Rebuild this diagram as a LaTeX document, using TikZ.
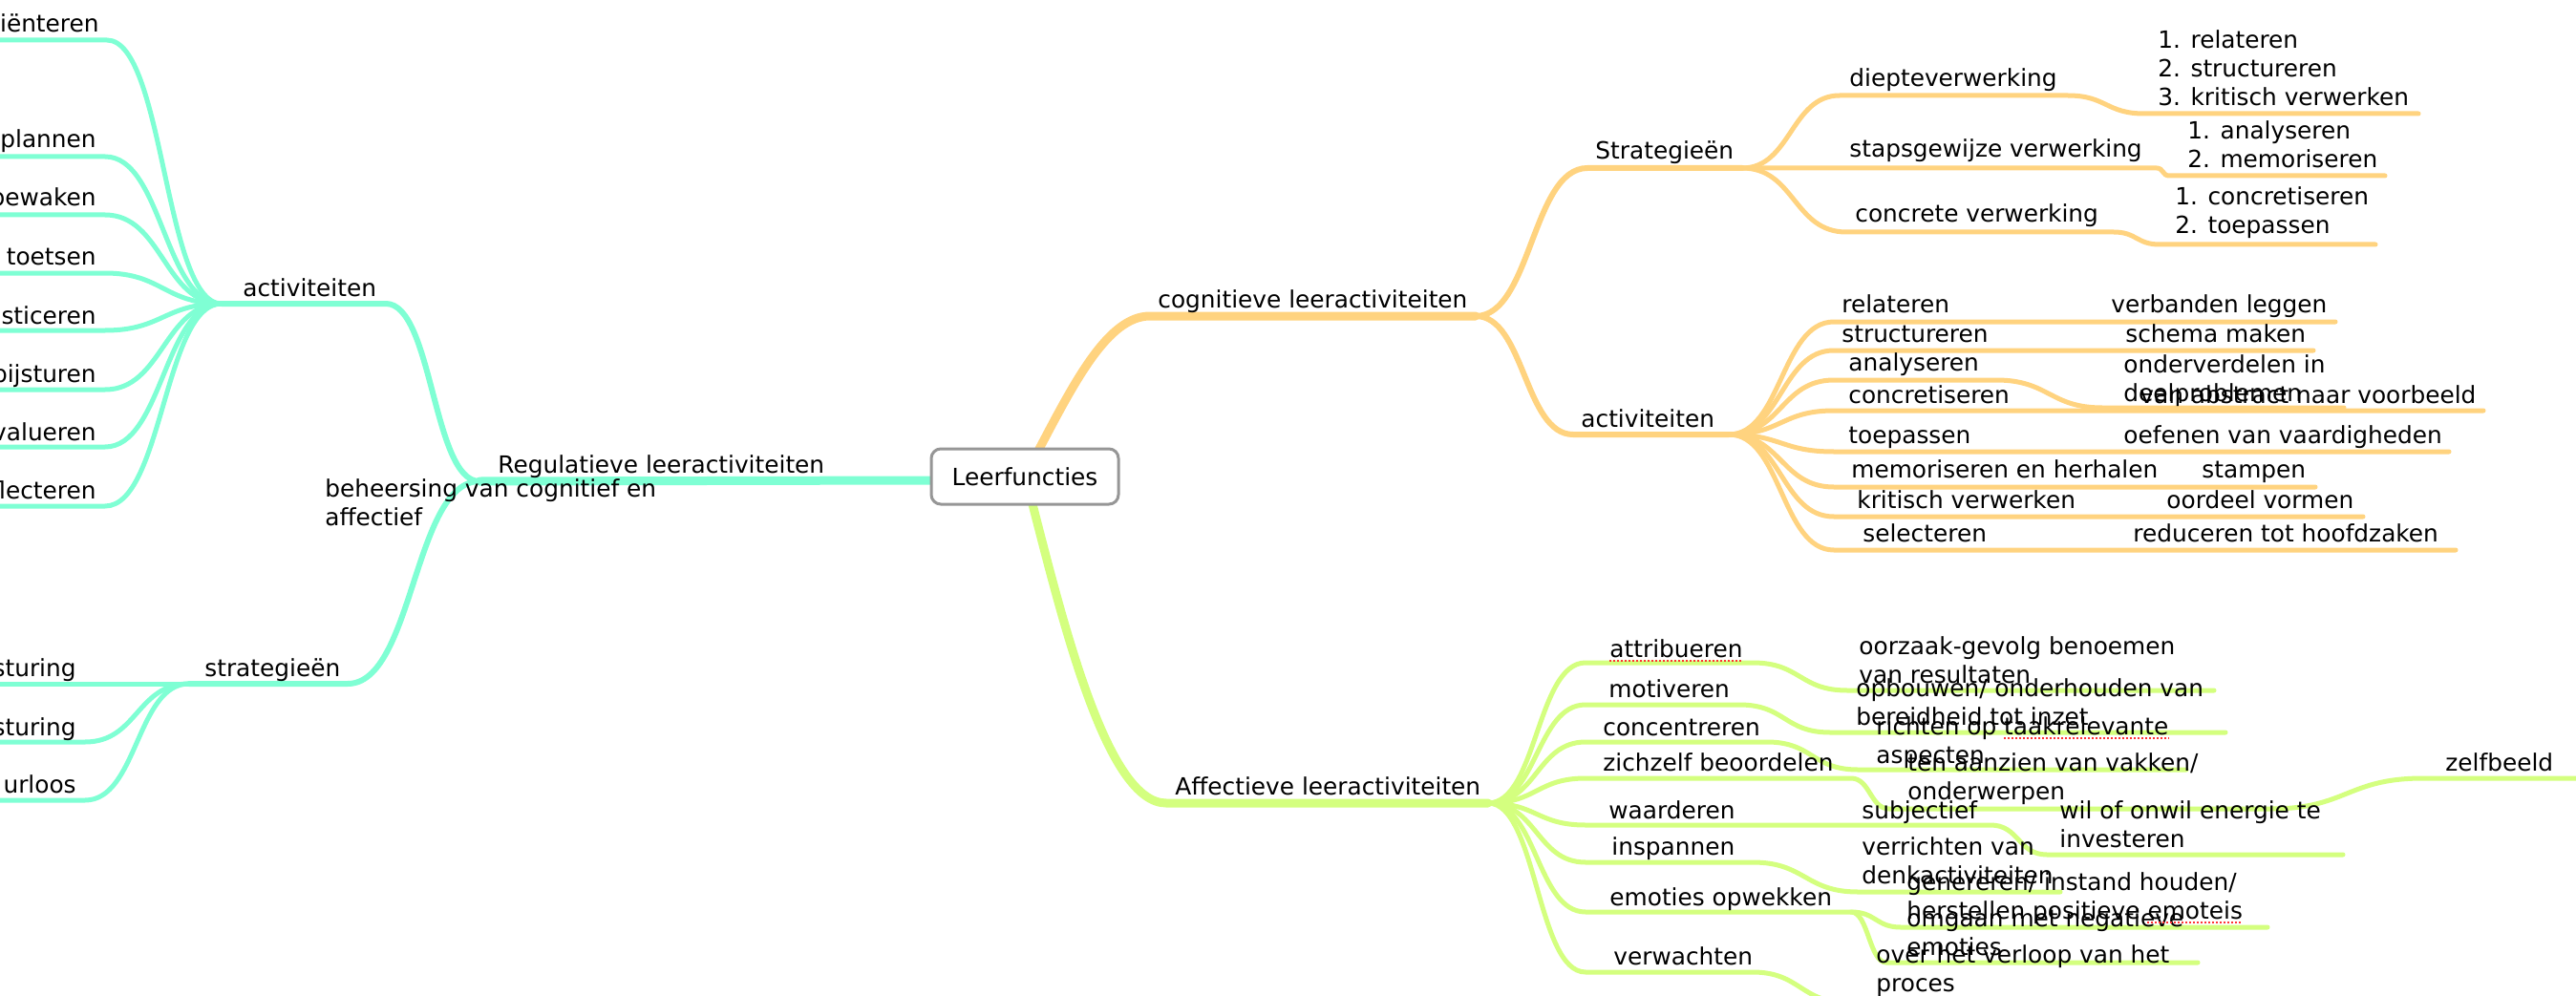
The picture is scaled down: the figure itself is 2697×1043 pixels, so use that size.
\documentclass[tikz,border=0pt]{standalone}
\usepackage{fontspec}
\setmainfont{DejaVu Sans}
\definecolor{tealc}{RGB}{127,255,212}
\definecolor{orac}{RGB}{255,211,127}
\definecolor{grnc}{RGB}{212,255,127}
\definecolor{rootgray}{RGB}{150,150,150}
\newcommand\mainfs{\fontsize{12.4pt}{15pt}\selectfont}
\newcommand\twoln[2]{\begin{tabular}[t]{@{}l@{}}#1\\#2\end{tabular}}
\newcommand\threeln[3]{\begin{tabular}[t]{@{}l@{}}#1\\#2\\#3\end{tabular}}
\tikzset{
  lbl/.style={inner sep=0pt, anchor=base west, font=\mainfs},
  lblr/.style={inner sep=0pt, anchor=base east, font=\mainfs},
  wA/.style={line width=4.5pt, line cap=round},
  wB/.style={line width=3pt, line cap=round},
  wC/.style={line width=2.5pt, line cap=round},
  spell/.style={draw=red!80, line width=1pt, dash pattern=on 1pt off 1pt},
  rootbox/.style={draw=rootgray, line width=1.5pt, rounded corners=5pt, fill=white,
    minimum width=98pt, minimum height=29pt, inner sep=0pt, font=\mainfs}
}
\begin{document}
\begin{tikzpicture}[x=0.5pt,y=-0.5pt]
\useasboundingbox (0,0) rectangle (2697,1043);
\fill[white] (0,0) rectangle (2697,1043);

% ---------- coordinates: teal ----------
\coordinate (rootW) at (975,503);
\coordinate (regJ) at (502,504);
\coordinate (ractR) at (404,318);
\coordinate (ractH) at (232,318);
\coordinate (l1s) at (112,42);  \coordinate (l1e) at (-6,42);
\coordinate (l2s) at (110,164); \coordinate (l2e) at (-6,164);
\coordinate (l3s) at (110,225); \coordinate (l3e) at (-6,225);
\coordinate (l4s) at (110,286); \coordinate (l4e) at (-6,286);
\coordinate (l5s) at (110,346); \coordinate (l5e) at (-6,346);
\coordinate (l6s) at (110,408); \coordinate (l6e) at (-6,408);
\coordinate (l7s) at (110,468); \coordinate (l7e) at (-6,468);
\coordinate (l8s) at (110,530); \coordinate (l8e) at (-6,530);
\coordinate (rstrR) at (364,716);
\coordinate (rstrH) at (198,716);
\coordinate (s1e) at (-6,716);
\coordinate (s2s) at (89,777); \coordinate (s2e) at (-6,777);
\coordinate (s3s) at (89,838); \coordinate (s3e) at (-6,838);

% ---------- teal lines ----------
\draw[tealc,wA] (rootW) -- (regJ);
\draw[tealc,wB] (regJ) .. controls +(-49,0) and +(49,0) .. (ractR) -- (ractH);
\foreach \i in {1,...,8}{
  \draw[tealc,wC] (ractH) .. controls +(-60,0) and +(60,0) .. (l\i s) -- (l\i e);
}
\draw[tealc,wB] (regJ) .. controls +(-69,0) and +(69,0) .. (rstrR) -- (rstrH);
\draw[tealc,wC] (rstrH) -- (s1e);
\draw[tealc,wC] (rstrH) .. controls +(-55,0) and +(55,0) .. (s2s) -- (s2e);
\draw[tealc,wC] (rstrH) .. controls +(-55,0) and +(55,0) .. (s3s) -- (s3e);

% ---------- coordinates: orange ----------
\coordinate (cogS) at (1087,472);
\coordinate (cogL) at (1204,331);
\coordinate (cogH) at (1545,331);
\coordinate (stL) at (1662,176);
\coordinate (stH) at (1824,176);
\coordinate (dpS) at (1926,100); \coordinate (dpE) at (2165,100);
\coordinate (dpS2) at (2245,119); \coordinate (dpE2) at (2532,119);
\coordinate (spE) at (2258,176); \coordinate (spS2) at (2271,184); \coordinate (spE2) at (2497,184);
\coordinate (cvS) at (1933,243); \coordinate (cvE) at (2213,243);
\coordinate (cvS2) at (2261,256); \coordinate (cvE2) at (2487,256);
\coordinate (caL) at (1647,455);
\coordinate (caH) at (1810,455);
\coordinate (c1s) at (1920,337); \coordinate (c1e) at (2445,337);
\coordinate (c2s) at (1920,367); \coordinate (c2e) at (2422,367);
\coordinate (c3s) at (1920,398); \coordinate (c3m) at (2090,398);
\coordinate (c3s2) at (2201,427); \coordinate (c3e) at (2454,427);
\coordinate (c4s) at (1920,430); \coordinate (c4e) at (2600,430);
\coordinate (c5s) at (1920,473); \coordinate (c5e) at (2564,473);
\coordinate (c6s) at (1920,510); \coordinate (c6e) at (2424,510);
\coordinate (c7s) at (1920,541); \coordinate (c7e) at (2474,541);
\coordinate (c8s) at (1920,576); \coordinate (c8e) at (2571,576);

% ---------- orange lines ----------
\draw[orac,wA] (cogS) .. controls (1125,400) and (1160,331) .. (cogL) -- (cogH);
\draw[orac,wB] (cogH) .. controls +(58,0) and +(-58,0) .. (stL) -- (stH);
\draw[orac,wC] (stH) .. controls +(51,0) and +(-51,0) .. (dpS) -- (dpE)
   .. controls +(40,0) and +(-40,0) .. (dpS2) -- (dpE2);
\draw[orac,wC] (stH) -- (spE) .. controls +(7,0) and +(-7,0) .. (spS2) -- (spE2);
\draw[orac,wC] (stH) .. controls +(55,0) and +(-55,0) .. (cvS) -- (cvE)
   .. controls +(24,0) and +(-24,0) .. (cvS2) -- (cvE2);
\draw[orac,wB] (cogH) .. controls +(51,0) and +(-51,0) .. (caL) -- (caH);
\foreach \i in {1,2,4,5,6,7,8}{
  \draw[orac,wC] (caH) .. controls +(55,0) and +(-55,0) .. (c\i s) -- (c\i e);
}
\draw[orac,wC] (caH) .. controls +(55,0) and +(-55,0) .. (c3s) -- (c3m)
   .. controls +(55,0) and +(-55,0) .. (c3s2) -- (c3e);

% ---------- coordinates: green ----------
\coordinate (afS) at (1081,528);
\coordinate (afL) at (1221,841);
\coordinate (afH) at (1558,841);
\coordinate (g1s) at (1660,694); \coordinate (g1m) at (1835,694);
\coordinate (g1s2) at (1934,723); \coordinate (g1e) at (2318,723);
\coordinate (g2s) at (1660,738); \coordinate (g2m) at (1821,738);
\coordinate (g2s2) at (1916,767); \coordinate (g2e) at (2330,767);
\coordinate (g3s) at (1660,777); \coordinate (g3m) at (1850,777);
\coordinate (g3s2) at (1945,806); \coordinate (g3e) at (2289,806);
\coordinate (g4s) at (1660,815); \coordinate (g4m) at (1938,815);
\coordinate (g4s2) at (1978,847); \coordinate (g4m2) at (2377,847);
\coordinate (g4s3) at (2537,815); \coordinate (g4e) at (2705,815);
\coordinate (g5s) at (1660,864); \coordinate (g5m) at (2084,864);
\coordinate (g5s2) at (2143,895); \coordinate (g5e) at (2453,895);
\coordinate (g6s) at (1660,903); \coordinate (g6m) at (1835,903);
\coordinate (g6s2) at (1945,934); \coordinate (g6e) at (2157,934);
\coordinate (g7s) at (1660,955); \coordinate (g7m) at (1938,955);
\coordinate (g7s2) at (1990,971); \coordinate (g7e) at (2374,971);
\coordinate (g7s3) at (1975,1008); \coordinate (g7e3) at (2301,1008);
\coordinate (g8s) at (1660,1018); \coordinate (g8m) at (1835,1018);
\coordinate (g8s2) at (1935,1050); \coordinate (g8e) at (2330,1050);

% ---------- green lines ----------
\draw[grnc,wA] (afS) .. controls (1115,660) and (1160,841) .. (afL) -- (afH);
\draw[grnc,wC] (afH) .. controls +(51,0) and +(-51,0) .. (g1s) -- (g1m)
   .. controls +(50,0) and +(-50,0) .. (g1s2) -- (g1e);
\draw[grnc,wC] (afH) .. controls +(51,0) and +(-51,0) .. (g2s) -- (g2m)
   .. controls +(48,0) and +(-48,0) .. (g2s2) -- (g2e);
\draw[grnc,wC] (afH) .. controls +(51,0) and +(-51,0) .. (g3s) -- (g3m)
   .. controls +(48,0) and +(-48,0) .. (g3s2) -- (g3e);
\draw[grnc,wC] (afH) .. controls +(51,0) and +(-51,0) .. (g4s) -- (g4m)
   .. controls +(20,0) and +(-20,0) .. (g4s2) -- (g4m2)
   .. controls +(80,0) and +(-80,0) .. (g4s3) -- (g4e);
\draw[grnc,wC] (afH) .. controls +(51,0) and +(-51,0) .. (g5s) -- (g5m)
   .. controls +(30,0) and +(-30,0) .. (g5s2) -- (g5e);
\draw[grnc,wC] (afH) .. controls +(51,0) and +(-51,0) .. (g6s) -- (g6m)
   .. controls +(55,0) and +(-55,0) .. (g6s2) -- (g6e);
\draw[grnc,wC] (afH) .. controls +(51,0) and +(-51,0) .. (g7s) -- (g7m)
   .. controls +(26,0) and +(-26,0) .. (g7s2) -- (g7e);
\draw[grnc,wC] (g7m) .. controls +(18,0) and +(-18,0) .. (g7s3) -- (g7e3);
\draw[grnc,wC] (afH) .. controls +(51,0) and +(-51,0) .. (g8s) -- (g8m)
   .. controls +(50,0) and +(-50,0) .. (g8s2) -- (g8e);

% ---------- teal texts ----------
\node[lbl] (reg) at (521,495) {Regulatieve leeractiviteiten};
\node[lbl] (beh) at (340,520) {\twoln{beheersing van cognitief en}{affectief}};
\node[lbl] (ract) at (254,310) {activiteiten};
\node[lblr] (t1) at (104,34) {iënteren};
\node[lblr] (t2) at (101,155) {plannen};
\node[lblr] (t3) at (101,216) {bewaken};
\node[lblr] (t4) at (101,278) {toetsen};
\node[lblr] (t5) at (101,339) {sticeren};
\node[lblr] (t6) at (101,400) {bijsturen};
\node[lblr] (t7) at (101,461) {valueren};
\node[lblr] (t8) at (101,522) {flecteren};
\node[lbl] (rstr) at (214,708) {strategieën};
\node[lblr] (s1) at (80,708) {sturing};
\node[lblr] (s2) at (80,770) {sturing};
\node[lblr] (s3) at (80,830) {urloos};

% ---------- orange texts ----------
\node[lbl] (cog) at (1212,322) {cognitieve leeractiviteiten};
\node[lbl] (strat) at (1670,167) {Strategieën};
\node[lbl] (diep) at (1936,91) {diepteverwerking};
\node[lbl] (diepL) at (2259,51) {\threeln{1. relateren}{2. structureren}{3. kritisch verwerken}};
\node[lbl] (staps) at (1936,165) {stapsgewijze verwerking};
\node[lbl] (stapsL) at (2290,146) {\twoln{1. analyseren}{2. memoriseren}};
\node[lbl] (conc) at (1942,233) {concrete verwerking};
\node[lbl] (concL) at (2277,215) {\twoln{1. concretiseren}{2. toepassen}};
\node[lbl] (cact) at (1655,447) {activiteiten};
\node[lbl] (ca1) at (1928,328) {relateren};
\node[lbl] (ca1b) at (2210,328) {verbanden leggen};
\node[lbl] (ca2) at (1928,358) {structureren};
\node[lbl] (ca2b) at (2225,358) {schema maken};
\node[lbl] (ca3) at (1935,388) {analyseren};
\node[lbl] (ca3b) at (2223,390) {\twoln{onderverdelen in}{deelproblemen}};
\node[lbl] (ca4) at (1935,422) {concretiseren};
\node[lbl] (ca4b) at (2240,422) {van abstract naar voorbeeld};
\node[lbl] (ca5) at (1935,464) {toepassen};
\node[lbl] (ca5b) at (2223,464) {oefenen van vaardigheden};
\node[lbl] (ca6) at (1938,500) {memoriseren en herhalen};
\node[lbl] (ca6b) at (2305,500) {stampen};
\node[lbl] (ca7) at (1944,532) {kritisch verwerken};
\node[lbl] (ca7b) at (2268,532) {oordeel vormen};
\node[lbl] (ca8) at (1950,567) {selecteren};
\node[lbl] (ca8b) at (2233,567) {reduceren tot hoofdzaken};

% ---------- green texts ----------
\node[lbl] (aff) at (1230,832) {Affectieve leeractiviteiten};
\node[lbl] (g1) at (1685,688) {attribueren};
\node[lbl] (g1b) at (1946,685) {\twoln{oorzaak-gevolg benoemen}{van resultaten}};
\node[lbl] (g2) at (1684,730) {motiveren};
\node[lbl] (g2b) at (1943,729) {\twoln{opbouwen/ onderhouden van}{bereidheid tot inzet}};
\node[lbl] (g3) at (1678,770) {concentreren};
\node[lbl] (g3b) at (1964,769) {\twoln{richten op taakrelevante}{aspecten}};
\node[lbl] (g4) at (1678,807) {zichzelf beoordelen};
\node[lbl] (g4b) at (1997,807) {\twoln{ten aanzien van vakken/}{onderwerpen}};
\node[lbl] (g4c) at (2560,807) {zelfbeeld};
\node[lbl] (g5) at (1684,857) {waarderen};
\node[lbl] (g5b) at (1949,857) {subjectief};
\node[lbl] (g5c) at (2156,857) {\twoln{wil of onwil energie te}{investeren}};
\node[lbl] (g6) at (1687,895) {inspannen};
\node[lbl] (g6b) at (1949,895) {\twoln{verrichten van}{denkactiviteiten}};
\node[lbl] (g7) at (1685,948) {emoties opwekken};
\node[lbl] (g7b) at (1996,932) {\twoln{genereren/ instand houden/}{herstellen positieve emoteis}};
\node[lbl] (g7c) at (1996,970) {\twoln{omgaan met negatieve}{emoties}};
\node[lbl] (g8) at (1689,1010) {verwachten};
\node[lbl] (g8b) at (1964,1008) {\twoln{over het verloop van het}{proces}};

% spell-check marks
\draw[spell] ([yshift=-2pt]g1.base west) -- ([yshift=-2pt]g1.base east);
\draw[spell] (2098,773) -- (2271,773);
\draw[spell] (2248,966) -- (2347,966);

% ---------- root ----------
\node[rootbox] (root) at (1073,499) {Leerfuncties};
\end{tikzpicture}
\end{document}
